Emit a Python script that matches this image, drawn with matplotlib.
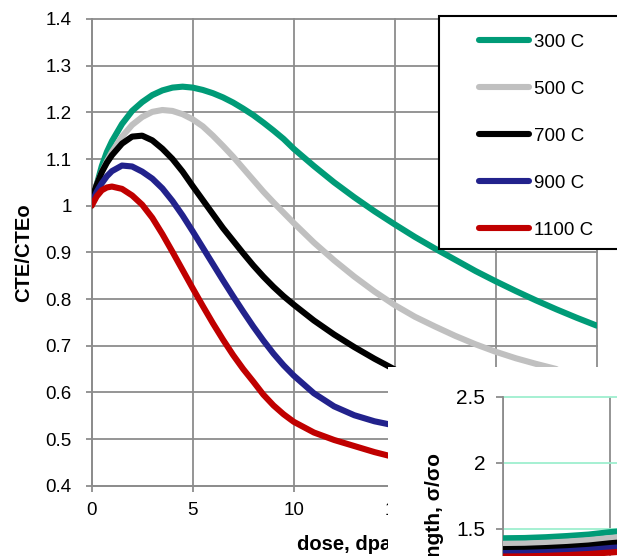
import numpy as np
import matplotlib
matplotlib.use("Agg")
import matplotlib.pyplot as plt
from matplotlib.patches import Rectangle
from matplotlib.ticker import FuncFormatter, MultipleLocator

# ---------------- data ----------------
dose = [0, 0.25, 0.5, 0.75, 1, 1.5, 2, 2.5, 3, 3.5, 4, 4.5, 5, 5.5, 6, 6.5,
        7, 7.5, 8, 8.5, 9, 9.5, 10, 11, 12, 13, 14, 15, 16, 17, 18, 19, 20,
        21, 22, 23, 24, 25]

cte_300 = [1.000, 1.045, 1.085, 1.115, 1.138, 1.175, 1.203, 1.222, 1.237, 1.247,
           1.253, 1.255, 1.253, 1.248, 1.241, 1.232, 1.221, 1.208, 1.194, 1.178,
           1.161, 1.143, 1.122, 1.085, 1.050, 1.018, 0.988, 0.960, 0.933, 0.908,
           0.884, 0.860, 0.838, 0.817, 0.797, 0.778, 0.760, 0.743]
cte_500 = [1.015, 1.045, 1.072, 1.095, 1.115, 1.148, 1.173, 1.190, 1.201, 1.205,
           1.203, 1.196, 1.185, 1.170, 1.150, 1.128, 1.105, 1.080, 1.055, 1.030,
           1.007, 0.985, 0.963, 0.921, 0.883, 0.848, 0.816, 0.787, 0.762, 0.741,
           0.721, 0.703, 0.687, 0.673, 0.661, 0.650, None, None]
cte_700 = [1.015, 1.045, 1.072, 1.092, 1.108, 1.133, 1.148, 1.150, 1.140, 1.122,
           1.100, 1.073, 1.042, 1.012, 0.982, 0.952, 0.925, 0.898, 0.872, 0.848,
           0.826, 0.806, 0.788, 0.754, 0.724, 0.697, 0.672, 0.649, None, None,
           None, None, None, None, None, None, None, None]
cte_900 = [1.005, 1.030, 1.048, 1.063, 1.074, 1.086, 1.084, 1.073, 1.058, 1.037,
           1.010, 0.979, 0.945, 0.910, 0.875, 0.840, 0.806, 0.773, 0.741, 0.711,
           0.683, 0.658, 0.636, 0.598, 0.570, 0.551, 0.538, 0.529, None, None,
           None, None, None, None, None, None, None, None]
cte_1100 = [1.000, 1.020, 1.033, 1.039, 1.041, 1.036, 1.022, 1.002, 0.974, 0.939,
            0.901, 0.862, 0.823, 0.785, 0.748, 0.713, 0.680, 0.650, 0.623, 0.595,
            0.572, 0.553, 0.537, 0.514, 0.498, 0.485, 0.472, 0.461, None, None,
            None, None, None, None, None, None, None, None]

labels = ["300 C", "500 C", "700 C", "900 C", "1100 C"]
colors = ["#009B77", "#C0C0C0", "#000000", "#22228C", "#C00000"]

# strength ratio, second chart (low-dose part)
dose_s = [0, 1, 2, 3, 4, 5, 6]
str_300 = [1.430, 1.432, 1.438, 1.447, 1.458, 1.476, 1.490]
str_500 = [1.388, 1.390, 1.396, 1.405, 1.416, 1.432, 1.446]
str_700 = [1.348, 1.350, 1.356, 1.364, 1.375, 1.392, 1.406]
str_900 = [1.318, 1.320, 1.325, 1.332, 1.342, 1.356, 1.368]
str_1100 = [1.292, 1.293, 1.297, 1.303, 1.311, 1.322, 1.334]

# ---------------- figure ----------------
plt.rcParams["font.family"] = ["Liberation Sans", "DejaVu Sans"]

W, H = 617, 556
fig = plt.figure(figsize=(W / 100, H / 100), dpi=100)


def fx(px):
    return px / W


def fy(py):
    return 1 - py / H


grid_c = "#8C8C8C"
lw_line = 4.4

ax = fig.add_axes([fx(91.7), fy(485.7), (596.7 - 91.7) / W, (485.7 - 19) / H])
ax.set_zorder(0)
x = np.array(dose, dtype=float)
lines = []
for ys, c, lab in zip([cte_300, cte_500, cte_700, cte_900, cte_1100], colors, labels):
    ln, = ax.plot(x, np.array(ys, dtype=float), color=c, lw=lw_line, label=lab,
                  solid_capstyle="round", solid_joinstyle="round", zorder=3)
    lines.append(ln)

ax.set_xlim(0, 25)
ax.set_ylim(0.4, 1.4)
ax.xaxis.set_major_locator(MultipleLocator(5))
ax.yaxis.set_major_locator(MultipleLocator(0.1))
ax.yaxis.set_major_formatter(FuncFormatter(lambda v, p: f"{v:.1f}".rstrip("0").rstrip(".")))
ax.grid(True, color=grid_c, lw=1.3, zorder=1)
for gl in ax.xaxis.get_gridlines() + ax.yaxis.get_gridlines():
    gl.set_clip_on(False)
for s in ["top", "right"]:
    ax.spines[s].set_visible(False)
for s in ["left", "bottom"]:
    ax.spines[s].set_color(grid_c)
    ax.spines[s].set_linewidth(1.3)
ax.tick_params(axis="both", colors=grid_c, labelcolor="black", labelsize=13.5,
               width=1.3, length=4.5, direction="out")
ax.tick_params(axis="y", pad=10)
ax.tick_params(axis="x", pad=7)
ax.set_axisbelow(True)

ax.set_xlabel("dose, dpa", fontsize=14.5, fontweight="bold", va="center")
ax.xaxis.set_label_coords(0.5, -(544 - 485.7) / 466.7)
ax.set_ylabel("CTE/CTEo", fontsize=14.5, fontweight="bold", va="center")
ax.yaxis.set_label_coords((24 - 91.7) / 505, 0.5)

# legend panel
fig.add_artist(Rectangle((fx(439.3), fy(249)), (660 - 439.3) / W, (249 - 16) / H,
                         transform=fig.transFigure, facecolor="white",
                         edgecolor="black", lw=1.5, zorder=2, clip_on=False))
leg = fig.legend(lines, labels, loc="upper left",
                 bbox_to_anchor=(fx(479), fy(33.4)), bbox_transform=fig.transFigure,
                 frameon=False, borderpad=0, borderaxespad=0, handlelength=2.67,
                 handletextpad=0.27, labelspacing=1.6, fontsize=13.5)
leg.set_zorder(3)

# second chart, lying over the lower right corner
fig.add_artist(Rectangle((fx(388), 0), 1 - fx(388) + 0.01, fy(367),
                         transform=fig.transFigure, facecolor="white",
                         edgecolor="none", zorder=4, clip_on=False))
ppu = 132.3  # pixels per unit of strength ratio
axs = fig.add_axes([fx(503.3), fy(396.7 + 1.25 * ppu), 533 / W, 1.25 * ppu / H])
axs.set_zorder(5)
axs.patch.set_alpha(0)
xs = np.array(dose_s, dtype=float)
for ys, c in zip([str_300, str_500, str_700, str_900, str_1100], colors):
    axs.plot(xs, ys, color=c, lw=lw_line, solid_capstyle="round", zorder=3)
axs.set_xlim(0, 25)
axs.set_ylim(1.25, 2.5)
axs.xaxis.set_major_locator(MultipleLocator(5))
axs.yaxis.set_major_locator(MultipleLocator(0.5))
axs.yaxis.set_major_formatter(FuncFormatter(lambda v, p: f"{v:g}"))
axs.grid(True, axis="y", color="#9EEFCF", lw=1.3)
axs.grid(True, axis="x", color=grid_c, lw=1.3)
for gl in axs.yaxis.get_gridlines():
    gl.set_clip_on(False)
for s in ["top", "right", "bottom"]:
    axs.spines[s].set_visible(False)
axs.spines["left"].set_color(grid_c)
axs.spines["left"].set_linewidth(1.3)
axs.tick_params(axis="both", colors=grid_c, labelcolor="black", labelsize=15,
                width=1.3, length=5, direction="out", pad=8)
axs.tick_params(axis="x", bottom=False, labelbottom=False)
axs.set_axisbelow(True)
fig.text(fx(435), fy(453), "Strength, σ/σo", rotation=90, ha="center", va="top",
         fontsize=15, fontweight="bold", zorder=6)

fig.savefig("out.png", dpi=100)
